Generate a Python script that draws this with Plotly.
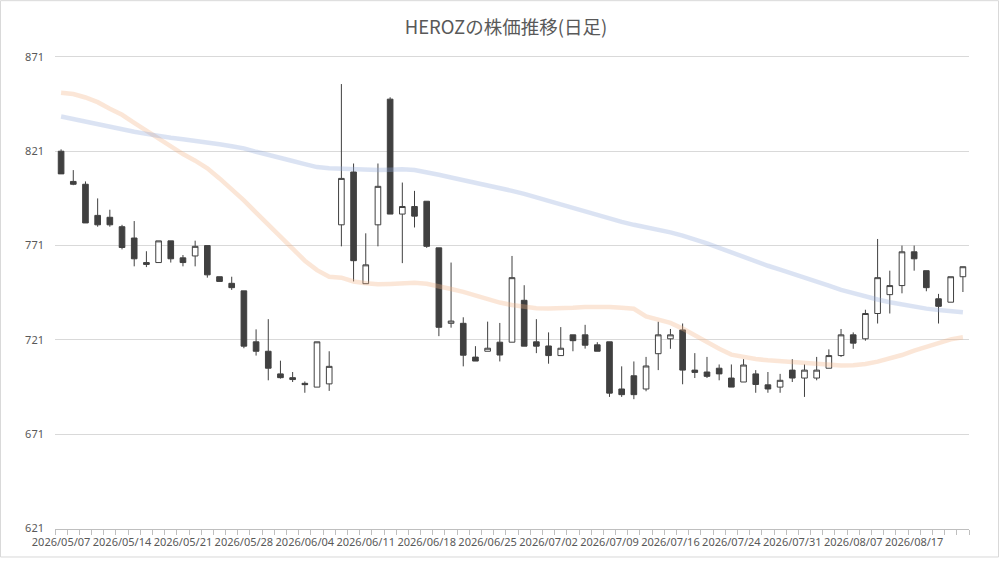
import plotly.graph_objects as go

# trading days shown on the chart (category axis)
dates = [
    "2026/05/07", "2026/05/08", "2026/05/11", "2026/05/12", "2026/05/13",
    "2026/05/14", "2026/05/15", "2026/05/18", "2026/05/19", "2026/05/20",
    "2026/05/21", "2026/05/22", "2026/05/25", "2026/05/26", "2026/05/27",
    "2026/05/28", "2026/05/29", "2026/06/01", "2026/06/02", "2026/06/03",
    "2026/06/04", "2026/06/05", "2026/06/08", "2026/06/09", "2026/06/10",
    "2026/06/11", "2026/06/12", "2026/06/15", "2026/06/16", "2026/06/17",
    "2026/06/18", "2026/06/19", "2026/06/22", "2026/06/23", "2026/06/24",
    "2026/06/25", "2026/06/26", "2026/06/29", "2026/06/30", "2026/07/01",
    "2026/07/02", "2026/07/03", "2026/07/06", "2026/07/07", "2026/07/08",
    "2026/07/09", "2026/07/10", "2026/07/13", "2026/07/14", "2026/07/15",
    "2026/07/16", "2026/07/17", "2026/07/21", "2026/07/22", "2026/07/23",
    "2026/07/24", "2026/07/27", "2026/07/28", "2026/07/29", "2026/07/30",
    "2026/07/31", "2026/08/03", "2026/08/04", "2026/08/05", "2026/08/06",
    "2026/08/07", "2026/08/10", "2026/08/12", "2026/08/13", "2026/08/14",
    "2026/08/17", "2026/08/18", "2026/08/19", "2026/08/20", "2026/08/21",
]

open_ = [
    821, 805, 803.5, 787, 786, 781, 775, 762, 762, 773.5,
    764.5, 765.5, 771, 754.5, 751, 747, 720, 715, 703, 701,
    698, 696, 697.7, 782, 810, 750.8, 782, 848.6, 787.7, 791.7,
    794.5, 769.8, 729.8, 729.8, 711.9, 715, 719.8, 719.8, 742, 720,
    717.8, 712.7, 723.7, 723.7, 718.4, 720, 695, 702, 695, 713.7,
    721.6, 726.3, 705, 704, 706, 700.8, 698.7, 703, 697.2, 696,
    705, 700.8, 700.8, 706, 712.7, 723.7, 721.6, 735, 745, 749.8,
    767.7, 757.7, 742.8, 741, 754.5,
]
high = [
    822, 811, 805, 796, 790, 782, 784, 768, 773.5, 773.5,
    766, 773.6, 771, 754.5, 754.5, 747, 726.6, 732, 710, 704,
    699, 720, 715, 856.6, 814.5, 777.5, 814.5, 849.6, 804.4, 800,
    794.5, 769.8, 762, 733, 717.7, 730.7, 730, 765.5, 750, 732,
    725, 727.8, 723.7, 729, 719.8, 720, 707, 709.6, 712, 730.6,
    726.8, 729.7, 714, 712, 708, 708, 710.8, 705, 704, 703,
    710.8, 708, 712, 716, 726.8, 725, 737, 774.5, 757.7, 771,
    771, 757.7, 745.4, 754.5, 759.8,
]
low = [
    809, 803, 783, 781, 781, 769, 760, 759.6, 762, 762,
    760, 760, 754, 752, 747.5, 716.6, 712.7, 699.6, 700.5, 698.7,
    693, 696, 694, 770.6, 752, 750.8, 770.6, 787.7, 761.7, 780.6,
    769.8, 723, 727.5, 707, 709.8, 715, 709.6, 719.8, 717.7, 714,
    708.4, 712.7, 715, 716.4, 715, 690.8, 690.8, 689.6, 693.8, 705,
    716.3, 697.5, 700.8, 700.8, 699.6, 696, 698.7, 693, 693, 693,
    698.7, 690.8, 699.6, 706, 712, 716.3, 720.6, 729.7, 735, 745.7,
    757.7, 746.8, 729.7, 741, 746.4,
]
close = [
    809, 803.5, 783, 782, 782, 770, 764, 761, 773.5, 764,
    762, 770.6, 755.5, 752, 748.7, 717.7, 715, 706, 701, 700,
    697.3, 720, 707, 806.6, 763, 760.8, 802.4, 787.7, 791.7, 786.6,
    770.6, 727.7, 731, 712.9, 709.8, 716.6, 713, 754, 717.7, 717.7,
    712.7, 716.6, 720.6, 718.2, 715, 692.8, 692, 692, 707.2, 723.7,
    723.7, 705, 703.8, 701.7, 703, 696, 707.7, 697.4, 695, 699.6,
    700.8, 705, 705, 712.7, 723.7, 719.3, 735, 754, 749.8, 767.7,
    764, 748.7, 738.8, 754.5, 759.8,
]

# moving averages
ma_short = [
    852, 851.3, 849.5, 847, 843.5, 840.3, 836, 831.7, 827.5, 823.5,
    819.5, 816, 812, 806.6, 801, 795, 788.5, 782, 775.5, 769,
    763, 758, 754.5, 754, 752, 751, 750.5, 750.7, 751, 751.3,
    750.8, 749.6, 748, 746.5, 744.5, 742.5, 740.8, 739.5, 738.5, 737.8,
    737.7, 737.7, 738, 738.4, 738.7, 738.5, 738, 737.5, 733.5, 731.5,
    730, 727, 723.5, 719.5, 716.3, 713.2, 711.8, 710.9, 710.2, 709.7,
    709.2, 708.6, 708, 707.5, 707.5, 707.6, 708.2, 709.5, 711, 713,
    715.3, 717.5, 719.5, 721.3, 722.4,
]
ma_long = [
    839.4, 838, 836.7, 835, 833.8, 832.7, 831.3, 830.2, 829, 828.2,
    827.4, 826.7, 825.8, 824.7, 823.6, 822.5, 820.7, 819.2, 817.9, 815.8,
    814.2, 812.6, 812, 811.7, 811.5, 811.2, 811, 811.2, 811.4, 811,
    810, 808.5, 807.1, 805.8, 804.5, 803, 801.4, 800, 798.4, 796.5,
    794.7, 793, 791.1, 789.1, 786.8, 785, 783.6, 782, 780.8, 779.5,
    778, 776.3, 774.5, 772.2, 769.8, 767.3, 765, 762.6, 760.3, 758.3,
    756.3, 754.4, 752.3, 749.8, 747.5, 745.6, 743.8, 742.4, 741, 739.7,
    738.5, 737.6, 736.8, 736.2, 735.7,
]

y_ticks = [621, 671, 721, 771, 821, 871]
tick_text = [d if i % 5 == 0 else "" for i, d in enumerate(dates)]

W, H = 1000, 561
y_lo, y_hi = 620.8, 872.0
px_per_unit = 474 / 250
ml, mr = 55, 31
mb = H - (531 + (621 - y_lo) * px_per_unit)
mt = H - mb - (y_hi - y_lo) * px_per_unit
pw, ph = W - ml - mr, H - mt - mb

dark = "#404040"

fig = go.Figure()
fig.add_trace(go.Candlestick(
    x=dates, open=open_, high=high, low=low, close=close,
    increasing=dict(fillcolor="white", line=dict(color=dark, width=1)),
    decreasing=dict(fillcolor=dark, line=dict(color=dark, width=1)),
    whiskerwidth=0,
    showlegend=False,
))
fig.add_trace(go.Scatter(
    x=dates, y=ma_short, mode="lines",
    line=dict(color="rgba(244,177,131,0.32)", width=4.5),
    showlegend=False, hoverinfo="skip",
))
fig.add_trace(go.Scatter(
    x=dates, y=ma_long, mode="lines",
    line=dict(color="rgba(142,169,219,0.32)", width=4.5),
    showlegend=False, hoverinfo="skip",
))

fig.update_layout(
    width=W, height=H,
    margin=dict(l=ml, r=mr, t=mt, b=mb),
    paper_bgcolor="white", plot_bgcolor="white",
    font=dict(family="Noto Sans, Noto Sans CJK JP", size=11, color="#595959"),
    title=dict(
        text="HEROZの株価推移(日足)",
        font=dict(family="Noto Sans CJK JP", size=18.5, color="#595959"),
        x=0.506, xanchor="center", y=1 - 28 / H, yanchor="middle",
    ),
    boxgap=0.34,
    xaxis=dict(
        type="category",
        rangeslider=dict(visible=False),
        tickmode="array", tickvals=dates, ticktext=tick_text,
        tickson="boundaries", ticks="outside", ticklen=5,
        tickcolor="#bfbfbf", tickangle=0,
        ticklabelstandoff=3,
        showline=True, linecolor="#bfbfbf", linewidth=1,
        showgrid=False, zeroline=False,
        tickfont=dict(size=11, color="#595959"),
    ),
    yaxis=dict(
        range=[y_lo, y_hi], tickvals=y_ticks,
        showgrid=True, gridcolor="#d9d9d9", gridwidth=1,
        zeroline=False, showline=False,
        ticklabelstandoff=10,
        tickfont=dict(size=11, color="#595959"),
    ),
    shapes=[dict(
        type="rect", xref="paper", yref="paper",
        x0=-(ml - 0.5) / pw, x1=1 + (mr - 1.5) / pw,
        y0=-(mb - 1.5) / ph, y1=1 + (mt - 0.5) / ph,
        line=dict(color="#d9d9d9", width=1), layer="below",
    )],
)

# the page's default body margin would shift the whole chart by 8px
fig.write_html(
    "out.html",
    config={"displayModeBar": False},
    post_script="document.body.style.margin='0';",
)
